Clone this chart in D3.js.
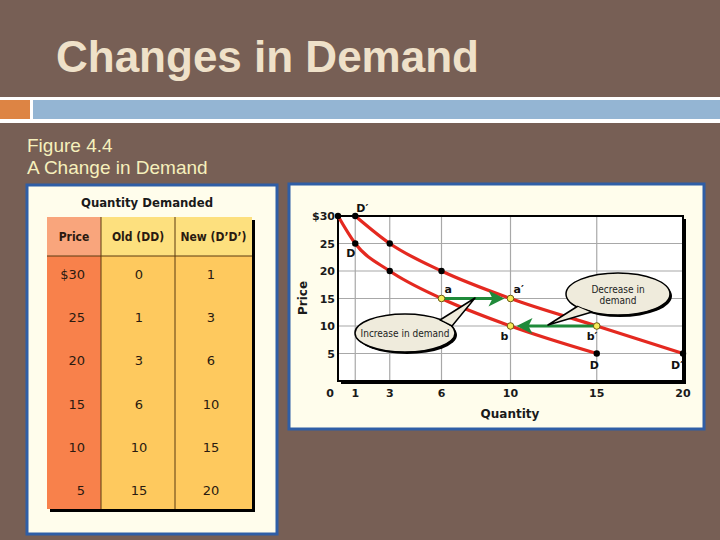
<!DOCTYPE html>
<html>
<head>
<meta charset="utf-8">
<script src="https://cdn.jsdelivr.net/npm/d3@7"></script>
<style>
  body { margin: 0; background: #775f55; }
  svg { display: block; }
</style>
</head>
<body>
<svg id="slide" width="720" height="540"></svg>
<script>
// ---- data ----
const prices = [30, 25, 20, 15, 10, 5];
const qtyOld = [0, 1, 3, 6, 10, 15];   // D
const qtyNew = [1, 3, 6, 10, 15, 20];  // D'
const tableHeaders = ['Price', 'Old (DD)', 'New (D\u2019D\u2019)'];
const xTicks = [0, 1, 3, 6, 10, 15, 20];
const yTicks = [5, 10, 15, 20, 25, 30];
// highlighted points: a, a', b, b'
const marked = [
    {q: 6, p: 15, name: 'a', dx: 3, dy: -6},
    {q: 10, p: 15, name: 'a\u2032', dx: 3, dy: -6},
    {q: 10, p: 10, name: 'b', dx: -10, dy: 14},
    {q: 15, p: 10, name: 'b\u2032', dx: -10, dy: 14}
];

const svg = d3.select('#slide');

// ---- slide chrome ----
svg.append('text')
    .attr('x', 56).attr('y', 72)
    .attr('font-family', 'Liberation Sans, Arial, sans-serif')
    .attr('font-weight', 'bold').attr('font-size', 44)
    .attr('fill', '#efe1c9')
    .text('Changes in Demand');

svg.append('rect').attr('x', 0).attr('y', 97).attr('width', 720).attr('height', 26).attr('fill', '#ffffff');
svg.append('rect').attr('x', 0).attr('y', 100).attr('width', 30).attr('height', 19).attr('fill', '#dd8444');
svg.append('rect').attr('x', 33).attr('y', 100).attr('width', 687).attr('height', 19).attr('fill', '#94b5d3');

const figFont = 'Liberation Sans, Arial, sans-serif';
svg.append('text').attr('x', 27).attr('y', 152)
    .attr('font-family', figFont).attr('font-size', 19).attr('fill', '#f6f0bc')
    .text('Figure 4.4');
svg.append('text').attr('x', 27).attr('y', 174)
    .attr('font-family', figFont).attr('font-size', 19).attr('fill', '#f6f0bc')
    .text('A Change in Demand');

// ---- table panel ----
const chartFont = 'DejaVu Sans, Verdana, sans-serif';
const condFont = 'DejaVu Sans Condensed, DejaVu Sans, sans-serif';
svg.append('rect').attr('x', 27).attr('y', 185).attr('width', 250).attr('height', 349)
    .attr('fill', '#fffdec').attr('stroke', '#2f5ea6').attr('stroke-width', 3);

svg.append('text').attr('x', 147).attr('y', 207)
    .attr('text-anchor', 'middle')
    .attr('font-family', condFont).attr('font-weight', 'bold').attr('font-size', 13)
    .attr('fill', '#1a1a1a')
    .text('Quantity Demanded');

const colX = [47, 101, 175];
const colW = [54, 74, 77];
const headTop = 217, headBot = 256, tableBot = 509;
const rowY = d3.scaleBand().domain(d3.range(prices.length)).range([252, 512]);

// drop shadow
svg.append('rect').attr('x', 50).attr('y', headTop + 3).attr('width', 205).attr('height', tableBot - headTop)
    .attr('fill', '#000');

const headFill = ['#f9a57c', '#fde07e', '#fde07e'];
const bodyFill = ['#f8814b', '#fec95e', '#fec95e'];
[0, 1, 2].forEach(function(c) {
    svg.append('rect').attr('x', colX[c]).attr('y', headTop).attr('width', colW[c]).attr('height', headBot - headTop)
        .attr('fill', headFill[c]);
    svg.append('rect').attr('x', colX[c]).attr('y', headBot).attr('width', colW[c]).attr('height', tableBot - headBot)
        .attr('fill', bodyFill[c]);
    svg.append('text').attr('x', colX[c] + colW[c] / 2).attr('y', 241)
        .attr('text-anchor', 'middle')
        .attr('font-family', condFont).attr('font-weight', 'bold').attr('font-size', 12)
        .attr('fill', '#2a1a10')
        .text(tableHeaders[c]);
});
// cell borders
svg.append('line').attr('x1', 47).attr('x2', 252).attr('y1', headBot).attr('y2', headBot).attr('stroke', '#5a3a10').attr('stroke-width', 1);
[101, 175].forEach(function(x) {
    svg.append('line').attr('x1', x).attr('x2', x).attr('y1', headTop).attr('y2', tableBot).attr('stroke', '#5a3a10').attr('stroke-width', 1);
});

const cols = [prices.map(function(p, i) { return i === 0 ? '$' + p : String(p); }), qtyOld.map(String), qtyNew.map(String)];
const colTextX = [85, 139, 211];
const colAnchor = ['end', 'middle', 'middle'];
cols.forEach(function(vals, c) {
    svg.selectAll(null).data(vals).enter().append('text')
        .attr('x', colTextX[c])
        .attr('y', function(d, i) { return rowY(i) + rowY.bandwidth() / 2 + 5; })
        .attr('text-anchor', colAnchor[c])
        .attr('font-family', chartFont).attr('font-size', 13)
        .attr('fill', '#2a1a10')
        .text(function(d) { return d; });
});

// ---- chart panel ----
svg.append('rect').attr('x', 289).attr('y', 184).attr('width', 415).attr('height', 245)
    .attr('fill', '#fffdec').attr('stroke', '#2f5ea6').attr('stroke-width', 3);

const x = d3.scaleLinear().domain([0, 20]).range([338, 683]);
const y = d3.scaleLinear().domain([0, 30]).range([381, 216]);

// plot shadow + background
svg.append('rect').attr('x', x(0) + 3).attr('y', y(30) + 3).attr('width', x(20) - x(0)).attr('height', y(0) - y(30))
    .attr('fill', '#000');
svg.append('rect').attr('x', x(0)).attr('y', y(30)).attr('width', x(20) - x(0)).attr('height', y(0) - y(30))
    .attr('fill', '#ffffff');

// grid
svg.selectAll(null).data(xTicks.filter(function(d) { return d > 0 && d < 20; })).enter().append('line')
    .attr('x1', function(d) { return x(d); }).attr('x2', function(d) { return x(d); })
    .attr('y1', y(0)).attr('y2', y(30))
    .attr('stroke', '#a8a8a8').attr('stroke-width', 1.2);
svg.selectAll(null).data(yTicks.filter(function(d) { return d < 30; })).enter().append('line')
    .attr('x1', x(0)).attr('x2', x(20))
    .attr('y1', function(d) { return y(d); }).attr('y2', function(d) { return y(d); })
    .attr('stroke', '#a8a8a8').attr('stroke-width', 1.2);

// frame
svg.append('rect').attr('x', x(0)).attr('y', y(30)).attr('width', x(20) - x(0)).attr('height', y(0) - y(30))
    .attr('fill', 'none').attr('stroke', '#000').attr('stroke-width', 2);

// tick labels
svg.selectAll(null).data(xTicks).enter().append('text')
    .attr('x', function(d) { return d === 0 ? x(0) - 8 : x(d); })
    .attr('y', 397)
    .attr('text-anchor', 'middle')
    .attr('font-family', chartFont).attr('font-weight', 'bold').attr('font-size', 11)
    .attr('fill', '#1a1a1a')
    .text(function(d) { return d; });
svg.selectAll(null).data(yTicks).enter().append('text')
    .attr('x', 335)
    .attr('y', function(d) { return y(d) + 4; })
    .attr('text-anchor', 'end')
    .attr('font-family', chartFont).attr('font-weight', 'bold').attr('font-size', 11)
    .attr('fill', '#1a1a1a')
    .text(function(d) { return d === 30 ? '$30' : d; });

svg.append('text')
    .attr('transform', 'translate(307,298) rotate(-90)')
    .attr('text-anchor', 'middle')
    .attr('font-family', chartFont).attr('font-weight', 'bold').attr('font-size', 12)
    .attr('fill', '#1a1a1a')
    .text('Price');
svg.append('text').attr('x', 510).attr('y', 418)
    .attr('text-anchor', 'middle')
    .attr('font-family', chartFont).attr('font-weight', 'bold').attr('font-size', 12)
    .attr('fill', '#1a1a1a')
    .text('Quantity');

// demand curves
const line = d3.line()
    .x(function(d) { return x(d[0]); })
    .y(function(d) { return y(d[1]); })
    .curve(d3.curveMonotoneX);
const curveD = qtyOld.map(function(q, i) { return [q, prices[i]]; });
const curveD2 = qtyNew.map(function(q, i) { return [q, prices[i]]; });
[curveD, curveD2].forEach(function(pts) {
    svg.append('path').attr('d', line(pts))
        .attr('fill', 'none').attr('stroke', '#e42920').attr('stroke-width', 3.2);
});

// green shift arrows
function shiftArrow(q0, q1, p) {
    const dir = q1 > q0 ? 1 : -1;
    const tip = x(q1) - dir * 6;
    svg.append('line').attr('x1', x(q0)).attr('x2', tip - dir * 10)
        .attr('y1', y(p)).attr('y2', y(p))
        .attr('stroke', '#1f8a3a').attr('stroke-width', 3.2);
    svg.append('path')
        .attr('d', 'M' + tip + ',' + y(p) + 'L' + (tip - dir * 16) + ',' + (y(p) - 8) +
                   'L' + (tip - dir * 12) + ',' + y(p) + 'L' + (tip - dir * 16) + ',' + (y(p) + 8) + 'Z')
        .attr('fill', '#1f8a3a');
}
shiftArrow(6, 10, 15);
shiftArrow(15, 10, 10);

// black points
const blackPts = curveD.concat(curveD2).filter(function(d) {
    return !marked.some(function(m) { return m.q === d[0] && m.p === d[1]; });
});
svg.selectAll(null).data(blackPts).enter().append('circle')
    .attr('cx', function(d) { return x(d[0]); })
    .attr('cy', function(d) { return y(d[1]); })
    .attr('r', 3.2).attr('fill', '#000');

// yellow points + labels
svg.selectAll(null).data(marked).enter().append('circle')
    .attr('cx', function(d) { return x(d.q); })
    .attr('cy', function(d) { return y(d.p); })
    .attr('r', 3.3).attr('fill', '#f6ec5a').attr('stroke', '#6a5a10').attr('stroke-width', 1);
svg.selectAll(null).data(marked).enter().append('text')
    .attr('x', function(d) { return x(d.q) + d.dx; })
    .attr('y', function(d) { return y(d.p) + d.dy; })
    .attr('font-family', chartFont).attr('font-weight', 'bold').attr('font-size', 11)
    .attr('fill', '#111')
    .text(function(d) { return d.name; });

// curve labels
const curveLabels = [
    {q: 1, p: 30, text: 'D\u2032', dx: 1, dy: -4},
    {q: 1, p: 25, text: 'D', dx: -9, dy: 13},
    {q: 15, p: 5, text: 'D', dx: -7, dy: 15},
    {q: 20, p: 5, text: 'D\u2032', dx: -12, dy: 15}
];
svg.selectAll(null).data(curveLabels).enter().append('text')
    .attr('x', function(d) { return x(d.q) + d.dx; })
    .attr('y', function(d) { return y(d.p) + d.dy; })
    .attr('font-family', chartFont).attr('font-weight', 'bold').attr('font-size', 11)
    .attr('fill', '#111')
    .text(function(d) { return d.text; });

// callouts
function callout(cx, cy, rx, ry, tail, lines) {
    const g = svg.append('g');
    g.append('ellipse').attr('cx', cx + 2).attr('cy', cy + 2).attr('rx', rx).attr('ry', ry).attr('fill', '#000');
    g.append('ellipse').attr('cx', cx).attr('cy', cy).attr('rx', rx).attr('ry', ry)
        .attr('fill', '#efebdc').attr('stroke', '#000').attr('stroke-width', 1.5);
    g.append('path').attr('d', 'M' + tail.join('L') + 'Z')
        .attr('fill', '#efebdc').attr('stroke', '#000').attr('stroke-width', 1.5).attr('stroke-linejoin', 'round');
    g.append('ellipse').attr('cx', cx).attr('cy', cy).attr('rx', rx - 1.5).attr('ry', ry - 1.5).attr('fill', '#efebdc');
    lines.forEach(function(t, i) {
        g.append('text').attr('x', cx).attr('y', cy + 4 + (i - (lines.length - 1) / 2) * 11)
            .attr('text-anchor', 'middle')
            .attr('font-family', condFont).attr('font-size', 10)
            .attr('fill', '#222')
            .text(t);
    });
}
callout(405, 333, 50, 19, [[440, 320], [475, 298], [452, 326]], ['Increase in demand']);
callout(618, 294, 52, 21, [[578, 306], [548, 325], [592, 312]], ['Decrease in', 'demand']);
</script>
</body>
</html>
